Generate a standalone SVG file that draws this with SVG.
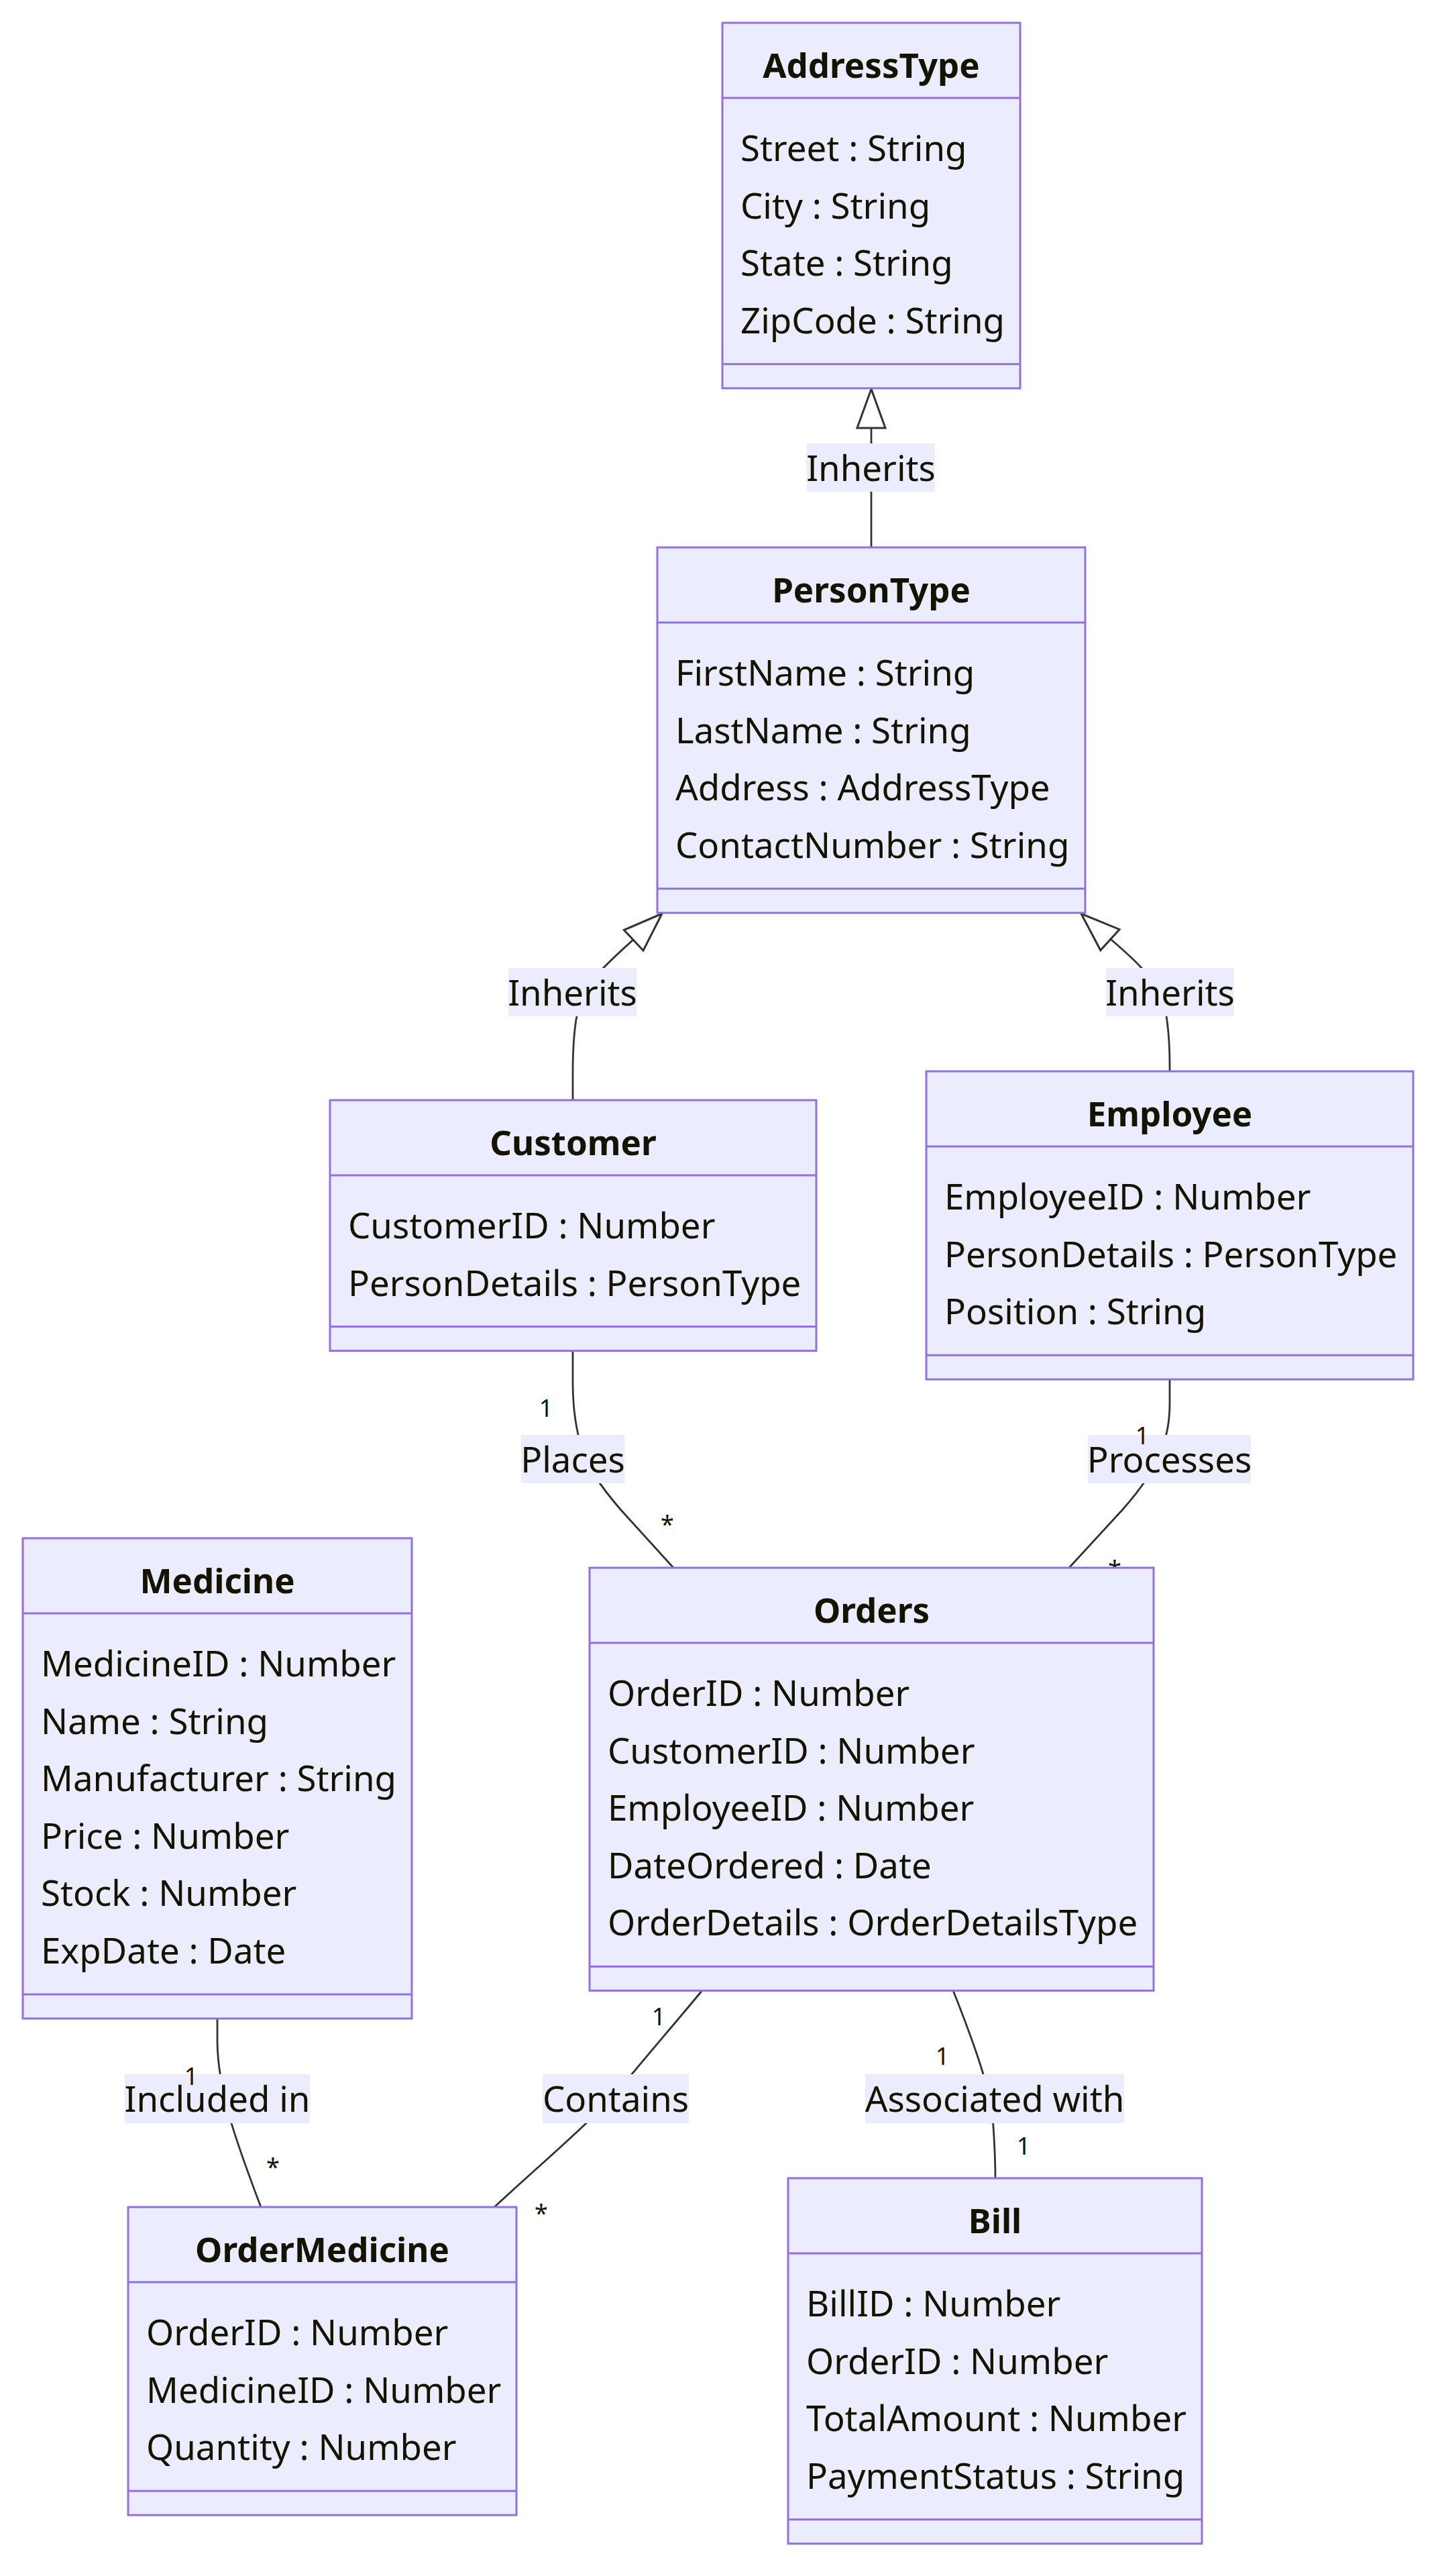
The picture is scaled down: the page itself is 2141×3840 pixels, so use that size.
<svg xmlns="http://www.w3.org/2000/svg" width="2141" height="3840" viewBox="0 0 2141 3840">
<style>
  .box { fill: #ECECFF; stroke: #9370DB; stroke-width: 3; }
  .div { stroke: #9370DB; stroke-width: 3; }
  .title { font-family: "Noto Sans", "Open Sans", sans-serif; font-size: 51px; font-weight: bold; fill: #131300; text-anchor: middle; }
  .mem { font-family: "Noto Sans", "Open Sans", sans-serif; font-size: 52.8px; fill: #131300; }
  .edge { fill: none; stroke: #333333; stroke-width: 2.8; }
  .lbg { fill: #ECECFF; }
  .ltxt { font-family: "Noto Sans", "Open Sans", sans-serif; font-size: 52.8px; fill: #131300; text-anchor: middle; }
  .card { font-family: "Noto Sans", "Open Sans", sans-serif; font-size: 36px; fill: #131300; text-anchor: middle; }
</style>
<defs>
  <marker id="ext" markerUnits="userSpaceOnUse" markerWidth="64" markerHeight="46" refX="60" refY="23" orient="auto" overflow="visible">
    <path d="M60,23 L2,2 L2,44 Z" fill="#ffffff" stroke="#333333" stroke-width="3"/>
  </marker>
</defs>
<rect x="0" y="0" width="2141" height="3840" fill="#ffffff"/>

<g id="connectors">
  <path class="edge" d="M1299,816 L1299,580" marker-end="url(#ext)"/>
  <path class="edge" d="M854,1640 L854,1600 C854,1570 855,1545 859,1520 C863,1495 875,1472 895,1448 C915,1425 955,1392 987,1362" marker-end="url(#ext)"/>
  <path class="edge" d="M1744,1597 L1744,1590 C1744,1560 1743,1540 1739,1515 C1735,1490 1722,1465 1702,1443 C1680,1418 1645,1392 1612,1362" marker-end="url(#ext)"/>
  <path class="edge" d="M854,2014 L854,2060 C854,2100 858,2130 868,2160 C878,2190 895,2215 925,2250 L1004,2337"/>
  <path class="edge" d="M1744,2056 L1744,2090 C1744,2120 1740,2140 1730,2165 C1720,2190 1705,2215 1674,2250 L1594,2337"/>
  <path class="edge" d="M1047,2967 C1010,3012 975,3052 942,3092 C920,3118 900,3140 874,3165 C830,3207 780,3250 737,3290"/>
  <path class="edge" d="M324,3009 L324,3040 C324,3070 328,3100 338,3140 C348,3180 370,3240 389,3290"/>
  <path class="edge" d="M1421,2967 C1440,3015 1455,3055 1466,3092 C1476,3125 1480,3150 1481,3170 C1483,3200 1484,3225 1484,3247"/>

  <g id="label-inherits-1"><rect class="lbg" x="1203" y="661" width="191" height="72"/><text class="ltxt" x="1298.5" y="717">Inherits</text></g>
  <g id="label-inherits-2"><rect class="lbg" x="758" y="1443" width="191" height="72"/><text class="ltxt" x="853.5" y="1499">Inherits</text></g>
  <g id="label-inherits-3"><rect class="lbg" x="1649" y="1443" width="191" height="72"/><text class="ltxt" x="1744.5" y="1499">Inherits</text></g>
  <g id="label-places"><rect class="lbg" x="777" y="2139" width="154" height="72"/><text class="ltxt" x="854" y="2195">Places</text></g>
  <g id="label-processes"><rect class="lbg" x="1622" y="2139" width="243" height="72"/><text class="ltxt" x="1743.5" y="2195">Processes</text></g>
  <g id="label-included"><rect class="lbg" x="186" y="3092" width="276" height="73"/><text class="ltxt" x="324" y="3148">Included in</text></g>
  <g id="label-contains"><rect class="lbg" x="809" y="3092" width="218" height="73"/><text class="ltxt" x="918" y="3148">Contains</text></g>
  <g id="label-associated"><rect class="lbg" x="1290" y="3092" width="386" height="73"/><text class="ltxt" x="1483" y="3148">Associated with</text></g>

  <text class="card" x="814" y="2112">1</text>
  <text class="card" x="995" y="2285">*</text>
  <text class="card" x="1703" y="2153">1</text>
  <text class="card" x="1662" y="2352">*</text>
  <text class="card" x="982" y="3019">1</text>
  <text class="card" x="807" y="3312">*</text>
  <text class="card" x="285" y="3108">1</text>
  <text class="card" x="407" y="3243">*</text>
  <text class="card" x="1405" y="3078">1</text>
  <text class="card" x="1526" y="3212">1</text>
</g>

<g id="AddressType">
  <rect class="box" x="1077" y="34" width="444" height="544.8"/>
  <line class="div" x1="1077" y1="146" x2="1521" y2="146"/>
  <line class="div" x1="1077" y1="542.8" x2="1521" y2="542.8"/>
  <text class="title" x="1299" y="116">AddressType</text>
  <text class="mem" x="1104" y="240">Street : String</text>
  <text class="mem" x="1104" y="325.6">City : String</text>
  <text class="mem" x="1104" y="411.2">State : String</text>
  <text class="mem" x="1104" y="496.8">ZipCode : String</text>
</g>

<g id="PersonType">
  <rect class="box" x="980" y="816" width="638" height="544.8"/>
  <line class="div" x1="980" y1="928" x2="1618" y2="928"/>
  <line class="div" x1="980" y1="1324.8" x2="1618" y2="1324.8"/>
  <text class="title" x="1299" y="898">PersonType</text>
  <text class="mem" x="1007" y="1022">FirstName : String</text>
  <text class="mem" x="1007" y="1107.6">LastName : String</text>
  <text class="mem" x="1007" y="1193.2">Address : AddressType</text>
  <text class="mem" x="1007" y="1278.8">ContactNumber : String</text>
</g>

<g id="Customer">
  <rect class="box" x="492" y="1640" width="725" height="373.6"/>
  <line class="div" x1="492" y1="1752" x2="1217" y2="1752"/>
  <line class="div" x1="492" y1="1977.6" x2="1217" y2="1977.6"/>
  <text class="title" x="854.5" y="1722">Customer</text>
  <text class="mem" x="519" y="1846">CustomerID : Number</text>
  <text class="mem" x="519" y="1931.6">PersonDetails : PersonType</text>
</g>

<g id="Employee">
  <rect class="box" x="1381" y="1597" width="726" height="459.2"/>
  <line class="div" x1="1381" y1="1709" x2="2107" y2="1709"/>
  <line class="div" x1="1381" y1="2020.2" x2="2107" y2="2020.2"/>
  <text class="title" x="1744" y="1679">Employee</text>
  <text class="mem" x="1408" y="1803">EmployeeID : Number</text>
  <text class="mem" x="1408" y="1888.6">PersonDetails : PersonType</text>
  <text class="mem" x="1408" y="1974.2">Position : String</text>
</g>

<g id="Medicine">
  <rect class="box" x="34" y="2293" width="580" height="716"/>
  <line class="div" x1="34" y1="2405" x2="614" y2="2405"/>
  <line class="div" x1="34" y1="2973" x2="614" y2="2973"/>
  <text class="title" x="324" y="2375">Medicine</text>
  <text class="mem" x="61" y="2499">MedicineID : Number</text>
  <text class="mem" x="61" y="2584.6">Name : String</text>
  <text class="mem" x="61" y="2670.2">Manufacturer : String</text>
  <text class="mem" x="61" y="2755.8">Price : Number</text>
  <text class="mem" x="61" y="2841.4">Stock : Number</text>
  <text class="mem" x="61" y="2927">ExpDate : Date</text>
</g>

<g id="Orders">
  <rect class="box" x="879" y="2337" width="841" height="630.4"/>
  <line class="div" x1="879" y1="2449" x2="1720" y2="2449"/>
  <line class="div" x1="879" y1="2931.4" x2="1720" y2="2931.4"/>
  <text class="title" x="1299.5" y="2419">Orders</text>
  <text class="mem" x="906" y="2543">OrderID : Number</text>
  <text class="mem" x="906" y="2628.6">CustomerID : Number</text>
  <text class="mem" x="906" y="2714.2">EmployeeID : Number</text>
  <text class="mem" x="906" y="2799.8">DateOrdered : Date</text>
  <text class="mem" x="906" y="2885.4">OrderDetails : OrderDetailsType</text>
</g>

<g id="OrderMedicine">
  <rect class="box" x="191" y="3290" width="579" height="459.2"/>
  <line class="div" x1="191" y1="3402" x2="770" y2="3402"/>
  <line class="div" x1="191" y1="3713.2" x2="770" y2="3713.2"/>
  <text class="title" x="480.5" y="3372">OrderMedicine</text>
  <text class="mem" x="218" y="3496">OrderID : Number</text>
  <text class="mem" x="218" y="3581.6">MedicineID : Number</text>
  <text class="mem" x="218" y="3667.2">Quantity : Number</text>
</g>

<g id="Bill">
  <rect class="box" x="1175" y="3247" width="617" height="544.8"/>
  <line class="div" x1="1175" y1="3359" x2="1792" y2="3359"/>
  <line class="div" x1="1175" y1="3755.8" x2="1792" y2="3755.8"/>
  <text class="title" x="1483.5" y="3329">Bill</text>
  <text class="mem" x="1202" y="3453">BillID : Number</text>
  <text class="mem" x="1202" y="3538.6">OrderID : Number</text>
  <text class="mem" x="1202" y="3624.2">TotalAmount : Number</text>
  <text class="mem" x="1202" y="3709.8">PaymentStatus : String</text>
</g>
</svg>
